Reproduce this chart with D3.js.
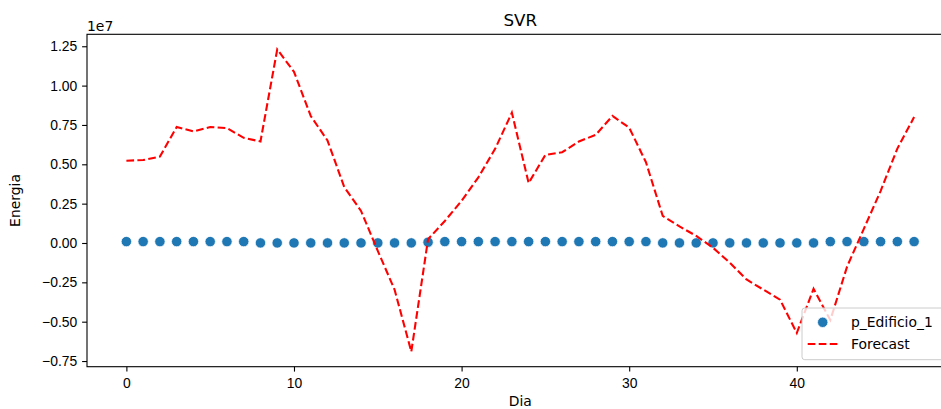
<!DOCTYPE html>
<html>
<head>
<meta charset="utf-8">
<script src="https://cdn.jsdelivr.net/npm/d3@7"></script>
<style>
  body { margin: 0; background: #fff; }
  svg { display: block; font-family: "DejaVu Sans", sans-serif; }
  .axes text { font-size: 13.9px; fill: #000; }
  .axes path, .axes line { stroke: #000; stroke-width: 1.1px; }
</style>
</head>
<body>
<div id="canvas"></div>
<script>
// DATA
const dias = d3.range(0, 48);
const edificio = [
  90000, 90000, 90000, 90000, 90000, 90000, 90000, 90000, 5000, 5000,
  5000, 5000, 5000, 5000, 5000, 5000, 5000, 5000, 50000, 90000,
  90000, 90000, 90000, 90000, 90000, 90000, 90000, 90000, 90000, 90000,
  90000, 90000, 5000, 5000, 5000, 5000, 5000, 5000, 5000, 5000,
  5000, 5000, 90000, 90000, 90000, 90000, 90000, 90000
];
const forecast = [
  5230000, 5270000, 5490000, 7370000, 7090000, 7370000, 7300000, 6680000, 6450000, 12300000,
  10880000, 8070000, 6510000, 3550000, 2040000, -500000, -2960000, -6900000, 240000, 1400000,
  2680000, 4170000, 5980000, 8280000, 3810000, 5600000, 5770000, 6450000, 6870000, 8070000,
  7330000, 5130000, 1720000, 1050000, 450000, -300000, -1250000, -2320000, -2960000, -3600000,
  -5720000, -2910000, -4900000, -1500000, 900000, 3300000, 6000000, 8000000
];
const xTicks = [0, 10, 20, 30, 40];
const yTicks = [-7500000, -5000000, -2500000, 0, 2500000, 5000000, 7500000, 10000000, 12500000];
const seriesNames = ["p_Edificio_1", "Forecast"];

// DIMENSIONS
const width = 941;
const height = 409;
const margin = { top: 34.3, left: 87, right: 953.5, bottom: 366.7 };

const canvas = d3.select('#canvas')
  .append('svg')
  .attr('width', width)
  .attr('height', height);

// SCALES (matplotlib style 5% padding)
const xPad = (d3.max(dias) - d3.min(dias)) * 0.05;
const scaleX = d3.scaleLinear()
  .domain([d3.min(dias) - xPad, d3.max(dias) + xPad])
  .range([margin.left, margin.right]);

const allY = edificio.concat(forecast);
const yPad = (d3.max(allY) - d3.min(allY)) * 0.05;
const scaleY = d3.scaleLinear()
  .domain([d3.min(allY) - yPad, d3.max(allY) + yPad])
  .range([margin.bottom, margin.top]);

const fmtY = v => (v / 1e7).toFixed(2).replace('-', '\u2212');

// POINTS
canvas.append('g').selectAll('circle').data(dias).enter()
  .append('circle')
  .attr('cx', d => scaleX(d))
  .attr('cy', d => scaleY(edificio[d]))
  .attr('r', 5.2)
  .style('fill', '#1f77b4')
  .style('stroke', '#fff')
  .style('stroke-width', 0.75);

// FORECAST LINE
const line = d3.line()
  .x(d => scaleX(d))
  .y(d => scaleY(forecast[d]));

canvas.append('path')
  .datum(dias)
  .attr('d', line)
  .style('fill', 'none')
  .style('stroke', '#ff0000')
  .style('stroke-width', 2.08)
  .style('stroke-dasharray', '7.7,3.3');

// AXES
const xaxis = canvas.append('g')
  .attr('class', 'axes')
  .attr('transform', `translate(0, ${margin.bottom})`)
  .call(d3.axisBottom(scaleX).tickValues(xTicks).tickSize(4.9).tickPadding(4.9).tickSizeOuter(0));

const yaxis = canvas.append('g')
  .attr('class', 'axes')
  .attr('transform', `translate(${margin.left}, 0)`)
  .call(d3.axisLeft(scaleY).tickValues(yTicks).tickFormat(fmtY).tickSize(4.9).tickPadding(4.9).tickSizeOuter(0));

xaxis.select('.domain').remove();
yaxis.select('.domain').remove();
xaxis.selectAll('text').attr('dy', '0.85em');

// SPINES
canvas.append('rect')
  .attr('x', margin.left)
  .attr('y', margin.top)
  .attr('width', margin.right - margin.left)
  .attr('height', margin.bottom - margin.top)
  .style('fill', 'none')
  .style('stroke', '#000')
  .style('stroke-width', 1.1);

// TEXTS
canvas.append('text')
  .attr('x', (margin.left + margin.right) / 2)
  .attr('y', 26)
  .attr('text-anchor', 'middle')
  .style('font-size', '16.7px')
  .text('SVR');

canvas.append('text')
  .attr('x', margin.left)
  .attr('y', 30.5)
  .style('font-size', '13.9px')
  .text('1e7');

canvas.append('text')
  .attr('x', (margin.left + margin.right) / 2)
  .attr('y', 406)
  .attr('text-anchor', 'middle')
  .style('font-size', '13.9px')
  .text('Dia');

canvas.append('text')
  .attr('transform', `translate(20, ${(margin.top + margin.bottom) / 2}) rotate(-90)`)
  .attr('text-anchor', 'middle')
  .style('font-size', '13.9px')
  .text('Energia');

// LEGEND
const legend = canvas.append('g')
  .attr('transform', `translate(${margin.right - 151.5}, ${margin.bottom - 58.7})`);

legend.append('rect')
  .attr('width', 144)
  .attr('height', 51.7)
  .attr('rx', 2.8)
  .style('fill', '#fff')
  .style('fill-opacity', 0.8)
  .style('stroke', '#cccccc')
  .style('stroke-width', 1);

legend.append('circle')
  .attr('cx', 20.7)
  .attr('cy', 14.3)
  .attr('r', 5.2)
  .style('fill', '#1f77b4')
  .style('stroke', '#fff')
  .style('stroke-width', 0.75);

legend.append('line')
  .attr('x1', 5.7).attr('x2', 36)
  .attr('y1', 36).attr('y2', 36)
  .style('stroke', '#ff0000')
  .style('stroke-width', 2.08)
  .style('stroke-dasharray', '7.7,3.3');

legend.selectAll('text.lab').data(seriesNames).enter()
  .append('text')
  .attr('class', 'lab')
  .attr('x', 49)
  .attr('y', (d, i) => 19.3 + i * 22)
  .style('font-size', '13.9px')
  .text(d => d);
</script>
</body>
</html>
